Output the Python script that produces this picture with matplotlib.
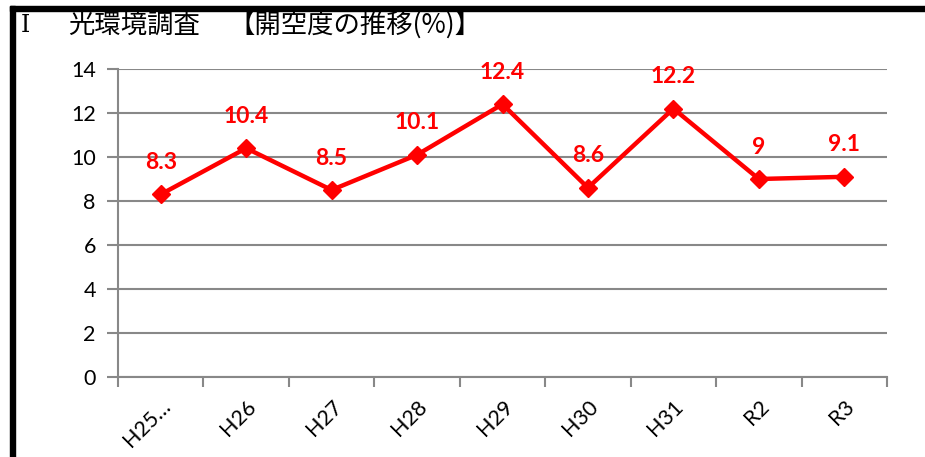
import matplotlib
matplotlib.use("Agg")
import matplotlib.pyplot as plt
from matplotlib.patches import Rectangle
import numpy as np

categories = ["H25…", "H26", "H27", "H28", "H29", "H30", "H31", "R2", "R3"]
values = [8.3, 10.4, 8.5, 10.1, 12.4, 8.6, 12.2, 9, 9.1]
value_labels = ["8.3", "10.4", "8.5", "10.1", "12.4", "8.6", "12.2", "9", "9.1"]
yticks = [0, 2, 4, 6, 8, 10, 12, 14]

W, H = 925, 457
fig = plt.figure(figsize=(W / 100, H / 100), dpi=100)
fig.patch.set_facecolor("white")

ax = fig.add_axes([118 / W, 1 - 377 / H, (887 - 118) / W, (377 - 69) / H])
x = np.arange(len(categories))
ax.plot(x, values, color="#FF0000", lw=3.2, marker="D", ms=9, mec="#FF0000",
        mfc="#FF0000", zorder=3, clip_on=False)
for xi, v, s in zip(x, values, value_labels):
    ax.annotate(s, (xi, v), xytext=(0, 23), textcoords="offset points",
                ha="center", va="center", color="#FF0000", fontsize=16.5,
                fontweight="bold", family="Lato")

ax.set_xlim(-0.5, len(categories) - 0.5)
ax.set_ylim(0, 14)
ax.set_yticks(yticks)
ax.set_yticklabels([str(t) for t in yticks], family="Lato", fontsize=15.5)
ax.set_xticks(x)
ax.set_xticklabels(categories, family="Lato", fontsize=15.5, rotation=45,
                   ha="right", va="top", rotation_mode="anchor")
ax.set_xticks(np.arange(-0.5, len(categories)), minor=True)
ax.tick_params(axis="x", which="major", length=0, pad=14)
ax.tick_params(axis="x", which="minor", length=7, width=1.5, color="#888888")
ax.tick_params(axis="y", length=8, width=1.5, color="#888888", pad=8)
ax.grid(axis="y", color="#888888", lw=1.5)
ax.set_axisbelow(True)
for sp in ["top", "right"]:
    ax.spines[sp].set_visible(False)
for sp in ["left", "bottom"]:
    ax.spines[sp].set_color("#888888")
    ax.spines[sp].set_linewidth(1.5)

# frame lines of the picture
fig.patches.append(Rectangle((10 / W, 1 - 10.5 / H), 1 - 10 / W, 4.5 / H,
                             transform=fig.transFigure, color="black"))
fig.patches.append(Rectangle((10 / W, 0), 4.5 / W, 1 - 6 / H,
                             transform=fig.transFigure, color="black"))

cjk = ["Noto Sans CJK JP", "DejaVu Sans"]
fig.text(21 / W, 1 - 26 / H, "Ⅰ", family=["DejaVu Serif", "Noto Sans CJK JP"],
         fontsize=17, va="center", ha="left")
fig.text(68 / W, 1 - 25 / H, "光環境調査", family=cjk, fontsize=19, va="center", ha="left")
fig.text(228 / W, 1 - 25 / H, "【開空度の推移(%)】", family=cjk, fontsize=19,
         va="center", ha="left")

fig.savefig("out.png", dpi=100, facecolor="white")
